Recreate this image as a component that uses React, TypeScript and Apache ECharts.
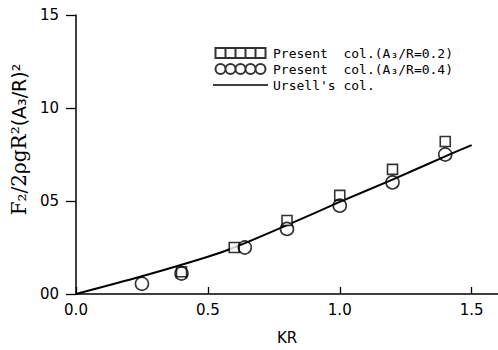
import React, { useEffect, useRef } from "react";
import * as echarts from "echarts";

const seriesNames = [
  "Present  col.(A\u2083/R=0.2)",
  "Present  col.(A\u2083/R=0.4)",
  "Ursell's col.",
];
const squarePoints: [number, number][] = [
  [0.4, 0.12],
  [0.6, 0.25],
  [0.8, 0.395],
  [1.0, 0.53],
  [1.2, 0.67],
  [1.4, 0.82],
];
const circlePoints: [number, number][] = [
  [0.25, 0.055],
  [0.4, 0.11],
  [0.64, 0.25],
  [0.8, 0.35],
  [1.0, 0.475],
  [1.2, 0.6],
  [1.4, 0.75],
];
const ursellCurve: [number, number][] = [
  [0.0, 0.0],
  [0.25, 0.095],
  [0.5, 0.2],
  [0.6, 0.25],
  [0.8, 0.37],
  [1.0, 0.495],
  [1.2, 0.615],
  [1.4, 0.74],
  [1.5, 0.8],
];
const xTickValues = [0, 0.5, 1.0, 1.5];
const xTickLabels = ["0.0", "0.5", "1.0", "1.5"];
const yTickValues = [0, 0.5, 1.0, 1.5];
const yTickLabels = ["00", "05", "10", "15"];

const squaresIcon =
  "path://M0,0H10V10H0Z M10,0H20V10H10Z M20,0H30V10H20Z M30,0H40V10H30Z M40,0H50V10H40Z";
const circlesIcon =
  "path://M0,5a5,5 0 1,0 10,0a5,5 0 1,0 -10,0Z M10,5a5,5 0 1,0 10,0a5,5 0 1,0 -10,0Z M20,5a5,5 0 1,0 10,0a5,5 0 1,0 -10,0Z M30,5a5,5 0 1,0 10,0a5,5 0 1,0 -10,0Z M40,5a5,5 0 1,0 10,0a5,5 0 1,0 -10,0Z";
const lineIcon = "path://M5,4.4H45V5.6H5Z";

const FONT = "'DejaVu Sans', 'Liberation Sans', sans-serif";
const LEGEND_FONT = "'DejaVu Sans Mono', 'DejaVu Sans', monospace";

export default function App() {
  const ref = useRef<HTMLDivElement>(null);
  useEffect(() => {
    document.body.style.margin = "0";
    if (!ref.current) return;
    const chart = echarts.init(ref.current, null, { renderer: "svg" });
    chart.setOption({
      animation: false,
      backgroundColor: "#fff",
      grid: { left: 76, right: 0, top: 15, bottom: 54 },
      legend: {
        orient: "vertical",
        left: 208,
        top: 41,
        itemWidth: 55,
        itemHeight: 10,
        itemGap: 2,
        textStyle: { fontFamily: LEGEND_FONT, fontSize: 13, lineHeight: 14, color: "#000" },
        data: [
          { name: seriesNames[0], icon: squaresIcon },
          { name: seriesNames[1], icon: circlesIcon },
          {
            name: seriesNames[2],
            icon: lineIcon,
            itemStyle: { color: "#000", borderWidth: 0 },
          },
        ],
      },
      xAxis: {
        type: "value",
        min: 0,
        max: 1.6,
        name: "KR",
        nameLocation: "middle",
        nameGap: 36,
        nameTextStyle: { fontFamily: FONT, fontSize: 15, color: "#000" },
        axisLine: { lineStyle: { color: "#000", width: 1.5 } },
        axisTick: {
          inside: true,
          length: 7,
          customValues: xTickValues,
          lineStyle: { color: "#000", width: 1.3 },
        },
        axisLabel: {
          customValues: xTickValues,
          margin: 8,
          fontFamily: FONT,
          fontSize: 15,
          color: "#000",
          formatter: (v: number) => xTickLabels[xTickValues.indexOf(v)] ?? "",
        },
        splitLine: { show: false },
      },
      yAxis: {
        type: "value",
        min: 0,
        max: 1.5,
        interval: 0.5,
        name: "{s|F\u2082/2\u03C1gR\u00B2}{t|(A\u2083/R)\u00B2}",
        nameLocation: "middle",
        nameGap: 40,
        nameTextStyle: {
          color: "#000",
          rich: {
            s: {
              fontFamily: "'DejaVu Serif', serif",
              fontSize: 20,
              color: "#000",
              padding: [0, 0, 0, 30],
            },
            t: { fontFamily: FONT, fontSize: 19, color: "#000" },
          },
        },
        axisLine: { show: true, lineStyle: { color: "#000", width: 1.5 } },
        axisTick: { show: true, length: 10, lineStyle: { color: "#000", width: 1.3 } },
        axisLabel: {
          margin: 17,
          fontFamily: FONT,
          fontSize: 15,
          color: "#000",
          formatter: (v: number) => yTickLabels[yTickValues.indexOf(v)] ?? "",
        },
        splitLine: { show: false },
      },
      series: [
        {
          name: seriesNames[0],
          type: "scatter",
          symbol: "rect",
          symbolSize: 10,
          itemStyle: { color: "#fff", borderColor: "#000", borderWidth: 1.6 },
          data: squarePoints,
          z: 3,
        },
        {
          name: seriesNames[1],
          type: "scatter",
          symbol: "circle",
          symbolSize: 13,
          itemStyle: { color: "rgba(255,255,255,0)", borderColor: "#000", borderWidth: 1.6 },
          data: circlePoints,
          z: 4,
        },
        {
          name: seriesNames[2],
          type: "line",
          smooth: 0.3,
          symbol: "none",
          showSymbol: false,
          lineStyle: { color: "#000", width: 2 },
          itemStyle: { color: "#000" },
          data: ursellCurve,
          z: 2,
        },
      ],
    });
    return () => chart.dispose();
  }, []);
  return <div ref={ref} style={{ width: 498, height: 350 }} />;
}
